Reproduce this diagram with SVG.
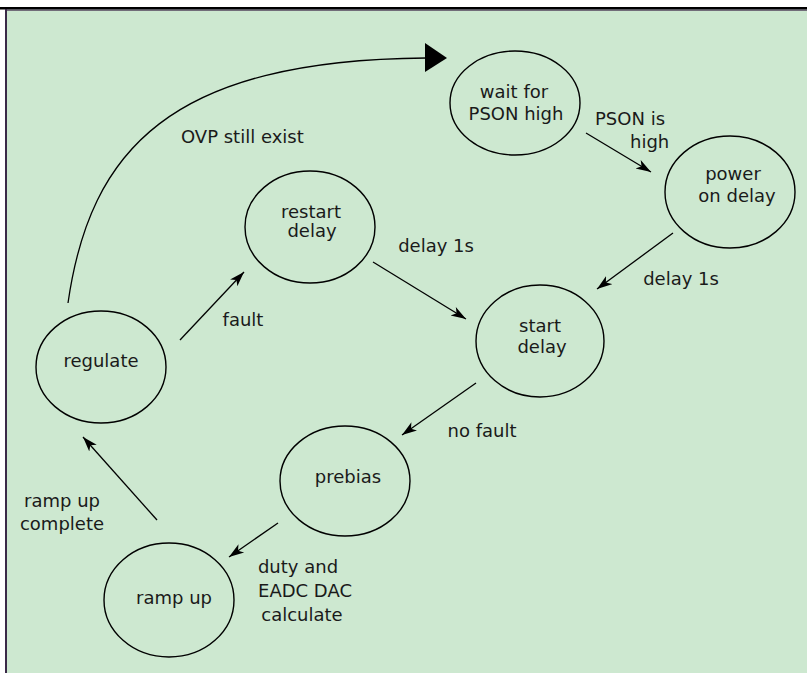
<svg xmlns="http://www.w3.org/2000/svg" width="807" height="673" viewBox="0 0 807 673">
<defs>
<style>
.node ellipse{fill:none;stroke:#000;stroke-width:1.4}
text{font-family:"DejaVu Sans","Liberation Sans",sans-serif;font-size:18px;fill:#1a1a1a}
.c{text-anchor:middle}
.edge{fill:none;stroke:#000;stroke-width:1.3}
</style>
<marker id="ah" markerUnits="userSpaceOnUse" markerWidth="16" markerHeight="12" refX="15" refY="6" orient="auto">
<path d="M0,1 L15,6 L0,11 L4,6 z" fill="#000"/>
</marker>
</defs>
<rect x="0" y="0" width="807" height="673" fill="#fff"/>
<rect x="5" y="9" width="802" height="664" fill="#cde8d0"/>
<rect x="0" y="7" width="807" height="2.5" fill="#000"/>
<rect x="5" y="9.5" width="802" height="1.2" fill="#4a3a55"/>
<rect x="5" y="9" width="2" height="664" fill="#3a2a48"/>

<g id="connectors">
<path class="edge" d="M68,303 C90,150 170,60 426,58"/>
<polygon points="425,43 447,58 425,72" fill="#000"/>
<line class="edge" x1="586" y1="133" x2="651" y2="172" marker-end="url(#ah)"/>
<line class="edge" x1="673" y1="233" x2="597" y2="289" marker-end="url(#ah)"/>
<line class="edge" x1="373" y1="262" x2="466" y2="319" marker-end="url(#ah)"/>
<line class="edge" x1="180" y1="340" x2="244" y2="272" marker-end="url(#ah)"/>
<line class="edge" x1="476" y1="383" x2="402" y2="435" marker-end="url(#ah)"/>
<line class="edge" x1="278" y1="523" x2="229" y2="557" marker-end="url(#ah)"/>
<line class="edge" x1="157" y1="520" x2="83" y2="437" marker-end="url(#ah)"/>
</g>

<g id="labels">
<text x="181" y="143">OVP still exist</text>
<text x="595" y="125">PSON is</text>
<text x="630" y="148">high</text>
<text class="c" x="681" y="285">delay 1s</text>
<text class="c" x="436" y="252">delay 1s</text>
<text class="c" x="243" y="326">fault</text>
<text class="c" x="482" y="437">no fault</text>
<text class="c" x="62" y="507">ramp up</text>
<text class="c" x="62" y="530">complete</text>
<text class="c" x="298" y="573">duty and</text>
<text class="c" x="305" y="597">EADC DAC</text>
<text class="c" x="302" y="621">calculate</text>
</g>

<g id="wait" class="node">
<ellipse cx="515" cy="103" rx="65" ry="52"/>
<text class="c" x="514" y="98">wait for</text>
<text class="c" x="516" y="120">PSON high</text>
</g>
<g id="poweron" class="node">
<ellipse cx="730" cy="192" rx="65" ry="56"/>
<text class="c" x="733" y="180">power</text>
<text class="c" x="737" y="202">on delay</text>
</g>
<g id="restart" class="node">
<ellipse cx="310" cy="227" rx="65" ry="56"/>
<text class="c" x="311" y="218">restart</text>
<text class="c" x="312" y="237">delay</text>
</g>
<g id="start" class="node">
<ellipse cx="540" cy="341" rx="64" ry="56"/>
<text class="c" x="540" y="332">start</text>
<text class="c" x="542" y="353">delay</text>
</g>
<g id="regulate" class="node">
<ellipse cx="101" cy="367" rx="65" ry="56"/>
<text class="c" x="101" y="367">regulate</text>
</g>
<g id="prebias" class="node">
<ellipse cx="345" cy="481" rx="65" ry="55"/>
<text class="c" x="348" y="483">prebias</text>
</g>
<g id="rampup" class="node">
<ellipse cx="169" cy="600" rx="65" ry="57"/>
<text class="c" x="174" y="604">ramp up</text>
</g>
</svg>
